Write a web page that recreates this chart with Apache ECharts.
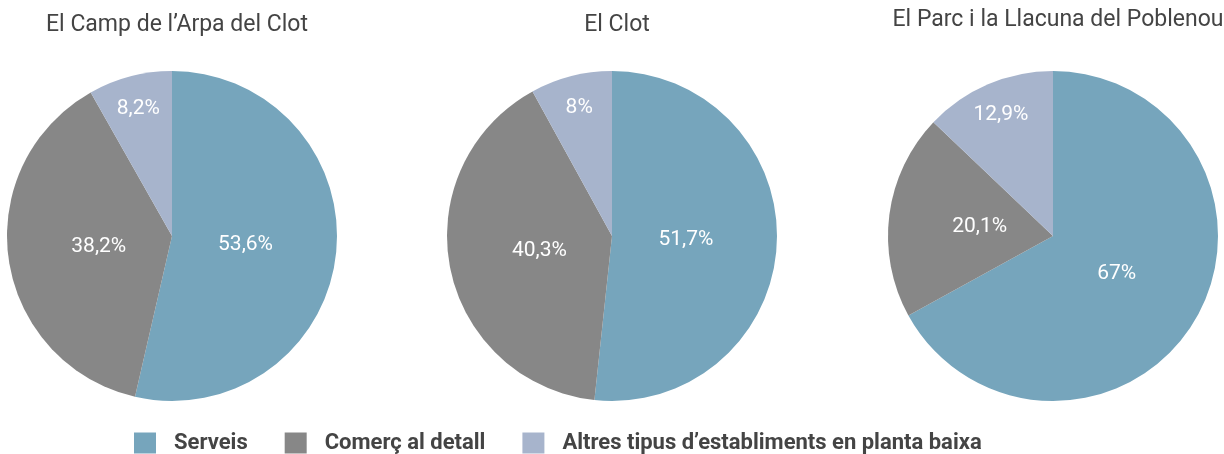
<!DOCTYPE html>
<html>
<head>
<meta charset="utf-8">
<script src="https://cdn.jsdelivr.net/npm/echarts@6/dist/echarts.min.js"></script>
<style>
html, body { margin: 0; padding: 0; background: #fff; }
#main { width: 1224px; height: 454px; }
</style>
</head>
<body>
<div id="main"></div>
<script>
// dades
var barris = ['El Camp de l\u2019Arpa del Clot', 'El Clot', 'El Parc i la Llacuna del Poblenou'];
var categories = ['Serveis', 'Comer\u00e7 al detall', 'Altres tipus d\u2019establiments en planta baixa'];
var serveis = [53.6, 51.7, 67];
var comerc = [38.2, 40.3, 20.1];
var altres = [8.2, 8, 12.9];
var colors = ['#76a5bc', '#878787', '#a7b4cc'];

var centers = [[172, 236], [612, 236], [1053, 236]];
var titleTops = [9, 9, 4];
var font = 'Roboto, "Noto Sans", sans-serif';

function fmt(v) {
    return String(v).replace('.', ',') + '%';
}

var labelStyle = {
    position: 'inside',
    color: '#fff',
    fontSize: 21,
    fontFamily: font,
    formatter: function (p) { return fmt(p.value); }
};

// anell transparent que només porta etiquetes
function labelRing(center, radius, vals, showFn) {
    var d = [];
    for (var k = 0; k < vals.length; k++) {
        d.push({ value: vals[k], name: categories[k], label: { show: showFn(k) } });
    }
    return {
        type: 'pie',
        center: center,
        radius: radius,
        startAngle: 90,
        silent: true,
        legendHoverLink: false,
        itemStyle: { color: 'rgba(0,0,0,0)' },
        label: labelStyle,
        labelLine: { show: false },
        emphasis: { disabled: true },
        data: d
    };
}

var series = [];
var titles = [];
for (var i = 0; i < barris.length; i++) {
    var vals = [serveis[i], comerc[i], altres[i]];
    var data = [];
    for (var k = 0; k < 3; k++) {
        data.push({ value: vals[k], name: categories[k] });
    }
    series.push({
        type: 'pie',
        name: barris[i],
        center: centers[i],
        radius: [0, 165],
        startAngle: 90,
        clockwise: true,
        silent: true,
        label: { show: false },
        labelLine: { show: false },
        itemStyle: { borderWidth: 0 },
        emphasis: { disabled: true },
        data: data
    });
    series.push(labelRing(centers[i], [0, 142], vals, function (k) { return k < 2; }));
    series.push(labelRing(centers[i], [100, 158], vals, function (k) { return k === 2; }));
    titles.push({
        text: barris[i],
        left: centers[i][0],
        top: titleTops[i],
        textAlign: 'center',
        textStyle: {
            color: '#444',
            fontSize: 23,
            fontWeight: 'normal',
            fontFamily: font
        }
    });
}

var myChart = echarts.init(document.getElementById('main'));
var option = {
    animation: false,
    color: colors,
    title: titles,
    legend: {
        data: categories,
        top: 427,
        left: 129,
        itemWidth: 22,
        itemHeight: 21,
        itemGap: 37,
        icon: 'rect',
        selectedMode: false,
        textStyle: {
            color: '#444',
            fontSize: 22,
            fontWeight: 'bold',
            fontFamily: font,
            padding: [0, 0, 0, 13]
        }
    },
    series: series
};
myChart.setOption(option);
</script>
</body>
</html>
